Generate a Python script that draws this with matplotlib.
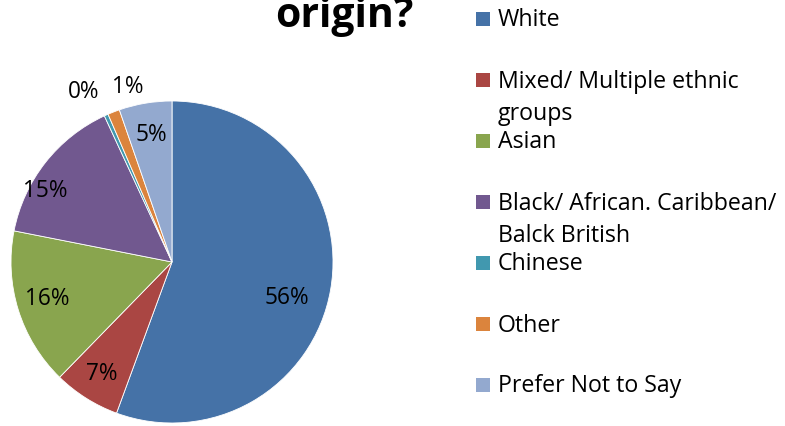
import matplotlib
matplotlib.use("Agg")
import matplotlib.pyplot as plt
from matplotlib.patches import Rectangle
import numpy as np

categories = ["White", "Mixed/ Multiple ethnic groups", "Asian",
              "Black/ African. Caribbean/ Balck British", "Chinese", "Other",
              "Prefer Not to Say"]
legend_lines = [["White"], ["Mixed/ Multiple ethnic", "groups"], ["Asian"],
                ["Black/ African. Caribbean/", "Balck British"], ["Chinese"],
                ["Other"], ["Prefer Not to Say"]]
values = [55.6, 6.7, 15.8, 15.0, 0.4, 1.2, 5.3]
colors = ["#4572A7", "#AA4643", "#89A54E", "#71588F", "#4198AF", "#DB843D", "#93A9CF"]

# label placement styling (radius factor, clockwise nudge in degrees)
label_r = [0.75, 0.82, 0.81, 0.90, 1.19, 1.12, 0.80]
label_nudge = [7.5, 0, 1, -9, -3.5, 7, 0.5]

FONT = "Open Sans"
W, H = 785, 426
fig = plt.figure(figsize=(W / 100, H / 100), dpi=100)
fig.patch.set_facecolor("white")

cx, cy, R = 172, 262, 161
ax = fig.add_axes([(cx - R) / W, (H - cy - R) / H, 2 * R / W, 2 * R / H])
wedges, _ = ax.pie(values, colors=colors, startangle=90, counterclock=False,
                   wedgeprops=dict(edgecolor="white", linewidth=0.6))
for w in wedges:
    w.set_clip_on(False)
ax.set_xlim(-1, 1)
ax.set_ylim(-1, 1)
ax.set_aspect("equal")
ax.axis("off")

total = sum(values)
for w, v, r, nd in zip(wedges, values, label_r, label_nudge):
    mid = np.deg2rad((w.theta1 + w.theta2) / 2 - nd)
    ax.text(r * np.cos(mid), r * np.sin(mid), f"{round(v / total * 100)}%",
            ha="center", va="center", fontsize=16.3, family=FONT, color="black")

# title (only the last line is visible in the frame)
fig.text(344 / W, 1 - 27 / H, "origin?", ha="center", va="baseline",
         fontsize=29.4, fontweight="bold", family=FONT)

# legend
y0, step, sub = 19, 61, 33
for i, (lines, c) in enumerate(zip(legend_lines, colors)):
    yc = y0 + i * step
    fig.patches.append(Rectangle((476 / W, 1 - (yc + 7) / H), 14 / W, 14 / H,
                                 transform=fig.transFigure, facecolor=c,
                                 edgecolor="none"))
    for j, ln in enumerate(lines):
        fig.text(498 / W, 1 - (yc + 7.5 + j * sub) / H, ln, ha="left",
                 va="baseline", fontsize=16.7, family=FONT)

fig.savefig("out.png", dpi=100)
